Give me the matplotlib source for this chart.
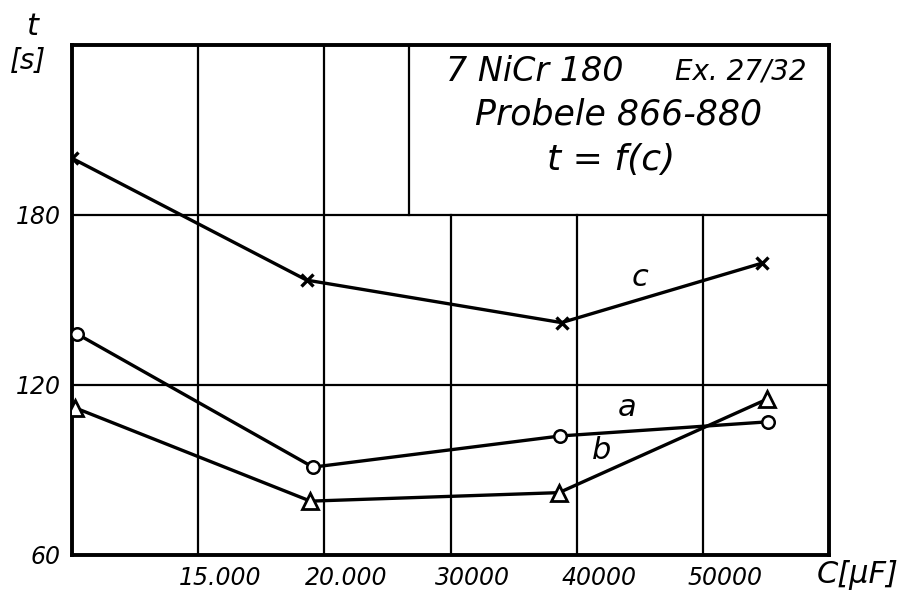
import numpy as np
import matplotlib
matplotlib.use("Agg")
import matplotlib.pyplot as plt
import matplotlib.transforms as mtransforms

# x positions are read in grid divisions of the hand-drawn capacitance axis
x_ticks = [1, 2, 3, 4, 5]
x_labels = ["15.000", "20.000", "30000", "40000", "50000"]
y_ticks = [60, 120, 180]

c_x = [0.0, 1.86, 3.88, 5.47]
c_t = [200, 157, 142, 163]
a_x = [0.04, 1.91, 3.87, 5.52]
a_t = [138, 91, 102, 107]
b_x = [0.02, 1.89, 3.86, 5.51]
b_t = [112, 79, 82, 115]

FONT = {"family": "DejaVu Sans", "style": "italic"}


def make_plot(save_path="out.png"):
    fig = plt.figure(figsize=(9.07, 5.99), dpi=100)
    ax = fig.add_axes([0.0794, 0.0735, 0.8346, 0.8515])
    ax.set_xlim(0, 6)
    ax.set_ylim(60, 240)

    # grid as drawn on the sheet
    for y in [120, 180]:
        ax.plot([0, 6], [y, y], color="black", lw=1.6, zorder=1)
    for x in [1, 2]:
        ax.plot([x, x], [60, 240], color="black", lw=1.6, zorder=1)
    for x in [3, 4, 5]:
        ax.plot([x, x], [60, 180], color="black", lw=1.6, zorder=1)
    ax.plot([2.67, 2.67], [180, 240], color="black", lw=1.6, zorder=1)

    for sp in ax.spines.values():
        sp.set_linewidth(2.8)

    ax.plot(c_x, c_t, color="black", lw=2.4, marker="x", ms=8, mew=2.4, zorder=3)
    ax.plot(a_x, a_t, color="black", lw=2.4, marker="o", ms=9, mew=1.8,
            mfc="white", zorder=3)
    ax.plot(b_x, b_t, color="black", lw=2.4, marker="^", ms=12, mew=2.0,
            mfc="white", zorder=3)

    ax.set_xticks(x_ticks)
    ax.set_xticklabels(x_labels, fontdict=FONT, fontsize=17)
    ax.set_yticks(y_ticks)
    ax.set_yticklabels([str(v) for v in y_ticks], fontdict=FONT, fontsize=17)
    ax.tick_params(length=0, pad=8)
    offset = mtransforms.ScaledTranslation(0.22, 0, fig.dpi_scale_trans)
    for lab in ax.get_xticklabels():
        lab.set_transform(lab.get_transform() + offset)

    # axis names
    fig.text(0.035, 0.955, "t", fontdict=FONT, fontsize=22, ha="center", va="center")
    fig.text(0.031, 0.898, "[s]", fontdict=FONT, fontsize=20, ha="center", va="center")
    fig.text(0.946, 0.04, "C[μF]", fontdict=FONT, fontsize=22, ha="center", va="center")

    # curve names
    ax.text(4.5, 158, "c", fontdict=FONT, fontsize=22, ha="center", va="center")
    ax.text(4.4, 112, "a", fontdict=FONT, fontsize=22, ha="center", va="center")
    ax.text(4.2, 97, "b", fontdict=FONT, fontsize=22, ha="center", va="center")

    # caption box text
    ax.text(3.67, 230.5, "7 NiCr 180", fontdict=FONT, fontsize=24, ha="center", va="center")
    ax.text(5.30, 230.5, "Ex. 27/32", fontdict=FONT, fontsize=20, ha="center", va="center")
    ax.text(4.33, 215.3, "Probele 866-880", fontdict=FONT, fontsize=25, ha="center", va="center")
    ax.text(4.27, 199.4, "t = f(c)", fontdict=FONT, fontsize=26, ha="center", va="center")

    fig.savefig(save_path, dpi=100)
    return fig


if __name__ == "__main__":
    make_plot()
